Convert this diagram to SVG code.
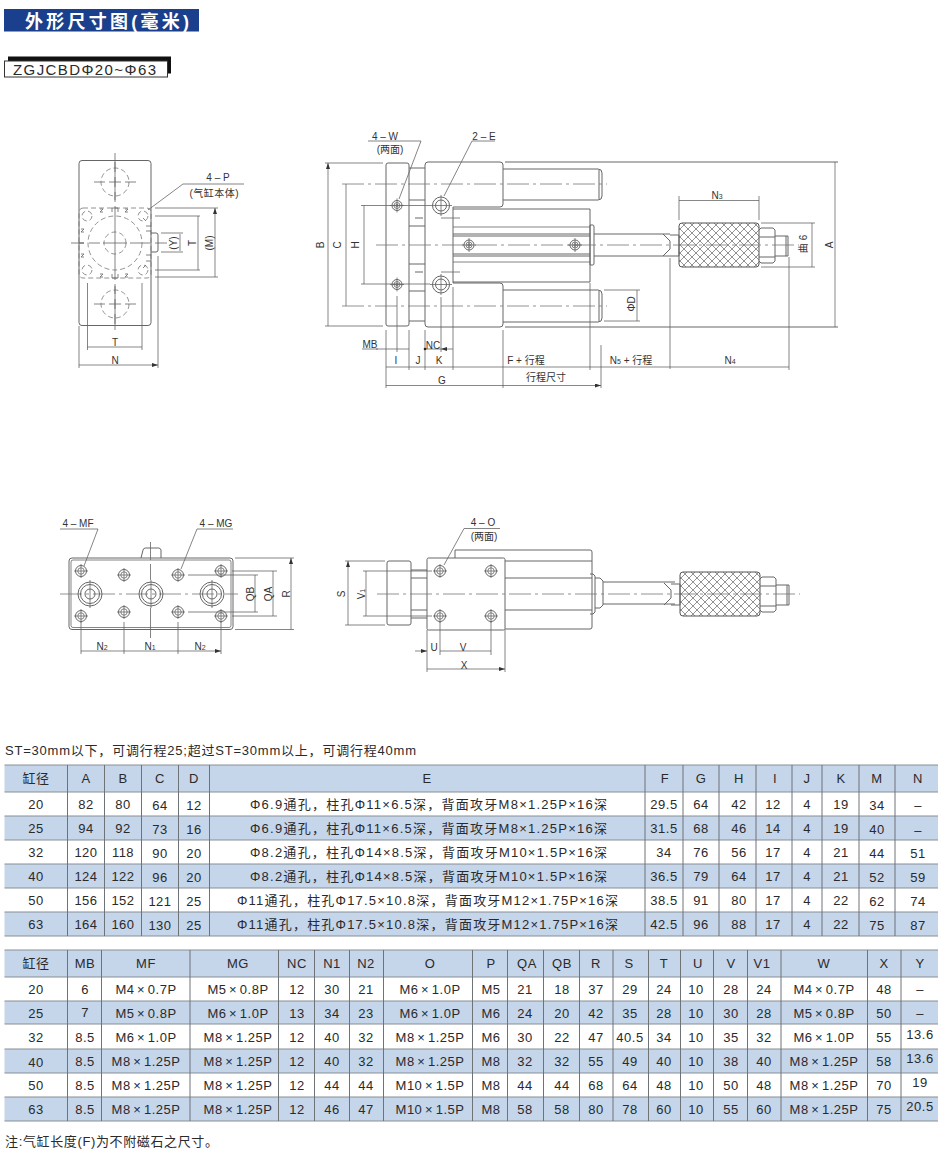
<svg xmlns="http://www.w3.org/2000/svg" width="950" height="1150" viewBox="0 0 950 1150">
<defs>
<style>
text{font-family:"Liberation Sans","Noto Sans CJK SC",sans-serif;fill:#2a2a2a}
.c{text-anchor:middle;font-size:13px;letter-spacing:.5px}
.m{text-anchor:middle;font-size:13px;letter-spacing:.5px;word-spacing:-1.5px}
.l{font-size:10px;text-anchor:middle;fill:#333}
.s{fill:none;stroke:#666;stroke-width:1}
.d{fill:none;stroke:#666;stroke-width:.8}
.a{fill:none;stroke:#555;stroke-width:.7;marker-start:url(#ah);marker-end:url(#ah)}
.e{fill:none;stroke:#555;stroke-width:.7;marker-end:url(#ah)}
.dash{fill:none;stroke:#777;stroke-width:.8;stroke-dasharray:5 3}
.cl{fill:none;stroke:#777;stroke-width:.8;stroke-dasharray:22 4 3 4}
.hb{fill:#c5d5ea}
.hl{fill:none;stroke:#8a8f96;stroke-width:1.2}
.vl{fill:none;stroke:#6e7378;stroke-width:1}
</style>
<marker id="ah" viewBox="0 0 6 4" refX="6" refY="2" markerWidth="6" markerHeight="4" markerUnits="userSpaceOnUse" orient="auto-start-reverse"><path d="M0 0L6 2L0 4Z" fill="#333"/></marker>
<pattern id="kn" width="8" height="8" patternUnits="userSpaceOnUse"><rect width="8" height="8" fill="#fff"/><path d="M0 0L8 8M8 0L0 8" stroke="#777" stroke-width=".8"/></pattern>
<g id="hs"><circle r="5.5" class="s"/><circle r="3.2" class="d"/><path class="d" d="M-7 0H7M0-7V7"/></g>
<g id="hb"><circle r="5" class="s"/><circle r="3" class="d"/><circle r="1.3" class="d"/><path class="d" d="M-7 0H7M0-7V7"/></g>
<g id="port"><circle r="12" class="s"/><circle r="9.5" class="s"/><circle r="5" class="s"/><path class="d" d="M0-14V14"/></g>
<g id="cr"><circle r="14" class="dash"/><path class="d" d="M-21 0H-10M-6 0H6M10 0H21M0-20V-10M0-5V5M0 10V20"/></g>
<g id="knob"><rect x="679" y="-22" width="80" height="44" rx="3" fill="url(#kn)" stroke="#555"/><path class="s" d="M663-11L670-4V4L663 11M670-10H679V11H670M759-15L761-17H773L775-15V16L773 18H761L759 16M759-8H775M759 12H775M775-9H788V11H775M786-9V11"/></g>
</defs>
<rect width="950" height="1150" fill="#fff"/>

<g id="title"><rect x="4" y="9" width="195" height="22.5" fill="#1a3f8c"/><text x="25" y="27.500" font-size="18" font-weight="bold" textLength="164" style="fill:#fff">外形尺寸图(毫米)</text></g>
<g id="model"><rect x="8" y="56.500" width="163" height="17" fill="#111"/><rect x="4.500" y="61" width="163" height="16" fill="#fff" stroke="#333"/><text x="13" y="74.500" font-size="15" textLength="143">ZGJCBDΦ20~Φ63</text></g>

<g id="view-end">
<rect x="79" y="160.500" width="72" height="165" rx="3" class="s"/>
<rect x="79" y="208" width="72" height="70" rx="4" class="dash" fill="#fff"/>
<path class="s" d="M151 233H156Q158 233 158 235V250Q158 252 156 252H151"/>
<use href="#cr" x="115" y="182"/><use href="#cr" x="115" y="304"/>
<circle cx="115" cy="243" r="27" class="dash" stroke-dasharray="9 4"/><circle cx="115" cy="243" r="11" class="dash"/>
<path class="d" d="M115 153V200M115 206V280M115 286V330M71 243H84M89 243H100M103 243H127M130 243H150M155 243H167"/>
<path class="s" d="M79 243H84" stroke-width="2.500"/>
<g id="ports-end"><circle cx="87" cy="216" r="5" class="dash" stroke-dasharray="3 2"/><circle cx="143" cy="216" r="5" class="dash" stroke-dasharray="3 2"/><circle cx="87" cy="270" r="5" class="dash" stroke-dasharray="3 2"/><circle cx="143" cy="270" r="5" class="dash" stroke-dasharray="3 2"/></g>
<path class="d" d="M100 209h3l-3 3h3M125 209h3l-3 3h3M100 274h3l-3 3h3M125 274h3l-3 3h3M112 212v-4h6v4M112 274v4h6v-4M81 229h3l-3 3h3M81 254h3l-3 3h3M146 226h5M146 231h5M146 255h5M146 261h5M143 218l3 3M143 268l3-3"/>
<path class="d" d="M183 184H244M183 184L148 210M155 208H218M155 216H200M161 233H183M161 252H183M155 270H200M155 277H218M87.500 283V350M142 283V350M79 326V368M158 256V368"/>
<path class="a" d="M215 208V277M198 216V270M180 234V251M87.500 347H142M79 365H158"/>
<text class="l" x="218" y="180.500">4 – P</text><text class="l" x="214" y="196.500" textLength="49">(气缸本体)</text>
<text class="l" transform="translate(176.500,243) rotate(-90)">(Y)</text><text class="l" transform="translate(195.500,243) rotate(-90)">T</text><text class="l" transform="translate(212.500,243) rotate(-90)">(M)</text>
<text class="l" x="115" y="345.500">T</text><text class="l" x="115" y="363.500">N</text>
</g>

<g id="view-side">
<path class="s" d="M505 162H838M505 327H838"/>
<rect x="386" y="163" width="23" height="163" rx="2" class="s"/>
<path class="s" d="M409 168H425M409 200H425M409 291H425M409 321H425M409 226H425M409 264H425"/>
<path class="s" d="M415 218H423M415 272H423" stroke-width="1.300"/>
<path class="s" d="M428 162H500Q503 162 503 165V204Q503 207 500 207H453V283H500Q503 283 503 286V324Q503 327 500 327H428Q425 327 425 324V165Q425 162 428 162Z"/>
<path class="s" d="M503 169H598Q602 169 602 173V196Q602 200 598 200H503M599 170V199"/>
<path class="s" d="M503 322H598Q602 322 602 318V294Q602 290 598 290H503M599 291V321"/>
<path class="s" d="M453 209H590V282H453M590 225H593Q594 225 594 227V263Q594 265 593 265H590V225"/>
<path class="d" d="M453 227H590M453 262H590"/><path class="s" d="M453 234H590M453 236H590M453 254H590M453 256H590"/>
<path class="s" d="M594 234H670M594 256H670"/>
<use href="#knob" y="245"/>
<path class="cl" d="M376 245H799"/>
<path class="cl" d="M342 184H607M342 306H607"/>
<path class="d" d="M361 205.500H430M361 284H430"/>
<path class="d" d="M441 218H460M441 272H460"/>
<use href="#hb" x="397" y="205.500"/><use href="#hb" x="397" y="284.500"/>
<g><circle cx="441" cy="205.500" r="8.500" class="s"/><circle cx="441" cy="205.500" r="5.500" class="s"/><path class="d" d="M441 195V216M430 205.500H452"/><circle cx="441" cy="284.500" r="8.500" class="s"/><circle cx="441" cy="284.500" r="5.500" class="s"/><path class="d" d="M441 274V295M430 284.500H452"/></g>
<use href="#hb" x="469" y="245"/><use href="#hb" x="575" y="245"/>
<path class="d" d="M325 163H383M325 326H383M397 296V352M441 297V352M386 330V388M409 330V370M425 330V370M453 287V370M503 330V388M590 283V370M601 345V388M670 258V369M789 257V370M679 196V220M759 196V220M761 223H815M761 267H815M604 290H640M604 321H640M368 141H421M421 141L399 199M472 141H495M472 141L444 196M362 349H378M386 349H397M425 349H441"/>
<path class="a" d="M328 163V326M346 184V306M364 205.500V284M835 162V327M812 223V267M637 290V321M679 200.500H759M386 367H409M409 367H425M425 367H453M453 367H590M590 367H670M670 367H789M386 385.500H503M503 385.500H601"/>
<path class="e" d="M376 349H386M409 349H397M453 349H441"/>
<circle cx="425" cy="349" r="1.300" fill="#222"/>
<text class="l" x="385" y="139.500">4 – W</text><text class="l" x="390" y="153">(两面)</text><text class="l" x="484" y="139.500">2 – E</text>
<text class="l" transform="translate(323.500,245) rotate(-90)">B</text><text class="l" transform="translate(340.500,245) rotate(-90)">C</text><text class="l" transform="translate(358.500,245) rotate(-90)">H</text>
<text class="l" transform="translate(832.500,245) rotate(-90)">A</text><text class="l" transform="translate(635,304) rotate(-90)">ΦD</text><text class="l" transform="translate(807,244) rotate(-90)">曲<tspan dx="3">6</tspan></text>
<text class="l" x="717" y="198.500">N<tspan font-size="7">3</tspan></text>
<text class="l" x="370" y="347.500">MB</text><text class="l" x="433" y="348.500">NC</text><text class="l" x="396" y="363.500">I</text><text class="l" x="418" y="363.500">J</text><text class="l" x="439" y="363.500">K</text>
<text class="l" x="526" y="363.500">F + 行程</text><text class="l" x="631" y="363.500">N<tspan font-size="7">5</tspan> + 行程</text><text class="l" x="730" y="363.500">N<tspan font-size="7">4</tspan></text>
<text class="l" x="442" y="383.500">G</text><text class="l" x="546" y="381">行程尺寸</text>
</g>

<g id="view-bottom">
<path class="s" d="M141 558L143 550Q143.500 548 145.500 548H158.500Q160.500 548 161 550L161 558"/>
<rect x="69" y="558" width="164" height="71.500" rx="3" class="s" fill="#fff"/><rect x="71" y="560" width="160" height="67.500" rx="2" class="d"/>
<path class="cl" d="M60 594H238"/><path class="d" d="M150.500 542V560M150.500 564V580M150.500 608V638"/>
<use href="#port" x="90" y="594"/><use href="#port" x="151" y="594"/><use href="#port" x="212" y="594"/>
<use href="#hs" x="81" y="571"/><use href="#hs" x="81" y="616"/><use href="#hs" x="221" y="571"/><use href="#hs" x="221" y="616"/>
<use href="#hs" x="124" y="575"/><use href="#hs" x="124" y="612"/><use href="#hs" x="178" y="575"/><use href="#hs" x="178" y="612"/>
<path class="d" d="M235 558H294M235 629.500H294M232 571H277M232 616H277M188 575H258M188 612H258M60 529H98M98 529L84 566M197 529H233M197 529L181 569M81 622V654M124 622V654M178 622V654M221 622V654"/>
<path class="a" d="M291 558V629.500M273 571V616M255 575V612M81 651H124M124 651H178M178 651H221"/>
<text class="l" x="78" y="526.500">4 – MF</text><text class="l" x="216" y="526.500">4 – MG</text>
<text class="l" transform="translate(253.500,594) rotate(-90)">QB</text><text class="l" transform="translate(271.500,594) rotate(-90)">QA</text><text class="l" transform="translate(289.500,594) rotate(-90)">R</text>
<text class="l" x="102" y="650">N<tspan font-size="7">2</tspan></text><text class="l" x="150" y="650">N<tspan font-size="7">1</tspan></text><text class="l" x="200" y="650">N<tspan font-size="7">2</tspan></text>
</g>

<g id="view-front">
<rect x="387" y="561" width="24" height="64" rx="2" class="s"/>
<path class="s" d="M411 570H427M411 578H427M411 610H427M411 618H427"/>
<path class="s" d="M455 558V550H590Q592 550 592 552V627Q592 629 590 629H505M505 561H592M505 578H592M505 610H592"/>
<rect x="427" y="558" width="78" height="72" rx="1.500" class="s" fill="#fff"/>
<path class="s" d="M590 574H593L595 576V612L593 614H590M595 578H600L603 581V605L600 608H595"/>
<path class="s" d="M603 582H675M603 604H675"/>
<use href="#knob" y="594" transform="translate(1 0)"/>
<path class="cl" d="M377 594H800"/>
<use href="#hs" x="440" y="571"/><use href="#hs" x="491" y="571"/><use href="#hs" x="440" y="616"/><use href="#hs" x="491" y="616"/>
<path class="d" d="M345 561H385M345 625H385M363 571H432M363 616H432M427 630V672M505 630V672M440 622V655M491 622V655M464 528.500H500M464 528.500L444 565"/>
<path class="a" d="M348 561V625M366 571V616M440 651H491M427 669H505"/><path class="e" d="M415 651H427"/>
<text class="l" x="483" y="525.500">4 – O</text><text class="l" x="484" y="540">(两面)</text>
<text class="l" transform="translate(344.500,594) rotate(-90)">S</text><text class="l" transform="translate(364.500,594) rotate(-90)">V<tspan font-size="7">1</tspan></text>
<text class="l" x="434" y="650.500">U</text><text class="l" x="463" y="650.500">V</text><text class="l" x="464" y="668.500">X</text>
</g>

<g id="table-1">
<text x="5" y="755" font-size="13" textLength="411">ST=30mm以下，可调行程25;超过ST=30mm以上，可调行程40mm</text>
<rect class="hb" x="4.500" y="765" width="933.500" height="27"/><rect class="hb" x="4.500" y="816" width="933.500" height="24"/><rect class="hb" x="4.500" y="864" width="933.500" height="24"/><rect class="hb" x="4.500" y="912" width="933.500" height="24"/>
<path class="hl" d="M4.500 765H938M4.500 792H938M4.500 816H938M4.500 840H938M4.500 864H938M4.500 888H938M4.500 912H938M4.500 936H938"/>
<path class="vl" d="M67.500 765V936M104.500 765V936M141.500 765V936M178.500 765V936M209.500 765V936M645 765V936M683 765V936M719 765V936M756 765V936M792 765V936M822 765V936M859 765V936M895 765V936"/>
<g><text class="c" x="36" y="783">缸径</text><text class="c" x="86" y="783">A</text><text class="c" x="123" y="783">B</text><text class="c" x="160" y="783">C</text><text class="c" x="194" y="783">D</text><text class="c" x="427" y="783">E</text><text class="c" x="665" y="783">F</text><text class="c" x="701" y="783">G</text><text class="c" x="739" y="783">H</text><text class="c" x="775" y="783">I</text><text class="c" x="807" y="783">J</text><text class="c" x="841" y="783">K</text><text class="c" x="877" y="783">M</text><text class="c" x="918" y="783">N</text></g>
<g transform="translate(0 809)"><text class="c" x="36">20</text><text class="c" x="86">82</text><text class="c" x="123">80</text><text class="c" x="160" y="1">64</text><text class="c" x="194" y="1">12</text><text x="250" font-size="13" textLength="357">Φ6.9通孔，柱孔Φ11×6.5深，背面攻牙M8×1.25P×16深</text><text class="c" x="664">29.5</text><text class="c" x="701">64</text><text class="c" x="739">42</text><text class="c" x="773">12</text><text class="c" x="807">4</text><text class="c" x="841">19</text><text class="c" x="877" y="1">34</text><text class="c" x="918" y="1">–</text></g>
<g transform="translate(0 833)"><text class="c" x="36">25</text><text class="c" x="86">94</text><text class="c" x="123">92</text><text class="c" x="160" y="1">73</text><text class="c" x="194" y="1">16</text><text x="250" font-size="13" textLength="357">Φ6.9通孔，柱孔Φ11×6.5深，背面攻牙M8×1.25P×16深</text><text class="c" x="664">31.5</text><text class="c" x="701">68</text><text class="c" x="739">46</text><text class="c" x="773">14</text><text class="c" x="807">4</text><text class="c" x="841">19</text><text class="c" x="877" y="1">40</text><text class="c" x="918" y="2">–</text></g>
<g transform="translate(0 857)"><text class="c" x="36">32</text><text class="c" x="86">120</text><text class="c" x="123">118</text><text class="c" x="160" y="1">90</text><text class="c" x="194" y="1">20</text><text x="250" font-size="13" textLength="357">Φ8.2通孔，柱孔Φ14×8.5深，背面攻牙M10×1.5P×16深</text><text class="c" x="664">34</text><text class="c" x="701">76</text><text class="c" x="739">56</text><text class="c" x="773">17</text><text class="c" x="807">4</text><text class="c" x="841">21</text><text class="c" x="877" y="1">44</text><text class="c" x="918" y="1">51</text></g>
<g transform="translate(0 881)"><text class="c" x="36">40</text><text class="c" x="86">124</text><text class="c" x="123">122</text><text class="c" x="160" y="1">96</text><text class="c" x="194" y="1">20</text><text x="250" font-size="13" textLength="357">Φ8.2通孔，柱孔Φ14×8.5深，背面攻牙M10×1.5P×16深</text><text class="c" x="664">36.5</text><text class="c" x="701">79</text><text class="c" x="739">64</text><text class="c" x="773">17</text><text class="c" x="807">4</text><text class="c" x="841">21</text><text class="c" x="877" y="1">52</text><text class="c" x="918" y="1">59</text></g>
<g transform="translate(0 905)"><text class="c" x="36">50</text><text class="c" x="86">156</text><text class="c" x="123">152</text><text class="c" x="160" y="1">121</text><text class="c" x="194" y="1">25</text><text x="237" font-size="13" textLength="381">Φ11通孔，柱孔Φ17.5×10.8深，背面攻牙M12×1.75P×16深</text><text class="c" x="664">38.5</text><text class="c" x="701">91</text><text class="c" x="739">80</text><text class="c" x="773">17</text><text class="c" x="807">4</text><text class="c" x="841">22</text><text class="c" x="877" y="1">62</text><text class="c" x="918" y="1">74</text></g>
<g transform="translate(0 929)"><text class="c" x="36">63</text><text class="c" x="86">164</text><text class="c" x="123">160</text><text class="c" x="160" y="1">130</text><text class="c" x="194" y="1">25</text><text x="237" font-size="13" textLength="381">Φ11通孔，柱孔Φ17.5×10.8深，背面攻牙M12×1.75P×16深</text><text class="c" x="664">42.5</text><text class="c" x="701">96</text><text class="c" x="739">88</text><text class="c" x="773">17</text><text class="c" x="807">4</text><text class="c" x="841">22</text><text class="c" x="877" y="1">75</text><text class="c" x="918" y="1">87</text></g>
</g>

<g id="table-2">
<rect class="hb" x="4.500" y="950" width="933.500" height="27"/><rect class="hb" x="4.500" y="1001" width="933.500" height="23"/><rect class="hb" x="4.500" y="1049" width="933.500" height="24"/><rect class="hb" x="4.500" y="1097" width="933.500" height="24"/>
<path class="hl" d="M4.500 950H938M4.500 977H938M4.500 1001H938M4.500 1024H938M4.500 1049H938M4.500 1073H938M4.500 1097H938M4.500 1121H938"/>
<path class="vl" d="M67.500 950V1121M101.500 950V1121M190 950V1121M278.500 950V1121M314.500 950V1121M349.500 950V1121M383.500 950V1121M472.500 950V1121M507.500 950V1121M543.500 950V1121M579.500 950V1121M613 950V1121M648.500 950V1121M680.500 950V1121M713.500 950V1121M747.500 950V1121M781 950V1121M867.500 950V1121M901 950V1121"/>
<g><text class="c" x="36" y="968">缸径</text><text class="c" x="85" y="968">MB</text><text class="c" x="146" y="968">MF</text><text class="c" x="238" y="968">MG</text><text class="c" x="297" y="968">NC</text><text class="c" x="332" y="968">N1</text><text class="c" x="366" y="968">N2</text><text class="c" x="430" y="968">O</text><text class="c" x="491" y="968">P</text><text class="c" x="527" y="968">QA</text><text class="c" x="562" y="968">QB</text><text class="c" x="596" y="968">R</text><text class="c" x="629" y="968">S</text><text class="c" x="664" y="968">T</text><text class="c" x="698" y="968">U</text><text class="c" x="731" y="968">V</text><text class="c" x="762" y="968">V1</text><text class="c" x="824" y="968">W</text><text class="c" x="884" y="968">X</text><text class="c" x="920" y="968">Y</text></g>
<g transform="translate(0 993.500)"><text class="c" x="36">20</text><text class="c" x="85">6</text><text class="m" x="146">M4 × 0.7P</text><text class="m" x="238">M5 × 0.8P</text><text class="c" x="297">12</text><text class="c" x="332">30</text><text class="c" x="366">21</text><text class="m" x="430">M6 × 1.0P</text><text class="c" x="491">M5</text><text class="c" x="525">21</text><text class="c" x="562">18</text><text class="c" x="596">37</text><text class="c" x="630">29</text><text class="c" x="664">24</text><text class="c" x="696">10</text><text class="c" x="731">28</text><text class="c" x="764">24</text><text class="m" x="824">M4 × 0.7P</text><text class="c" x="884">48</text><text class="c" x="920">–</text></g>
<g transform="translate(0 1017.500)"><text class="c" x="36">25</text><text class="c" x="85" y="-1">7</text><text class="m" x="146">M5 × 0.8P</text><text class="m" x="238">M6 × 1.0P</text><text class="c" x="297">13</text><text class="c" x="332">34</text><text class="c" x="366">23</text><text class="m" x="430">M6 × 1.0P</text><text class="c" x="491">M6</text><text class="c" x="525">24</text><text class="c" x="562">20</text><text class="c" x="596">42</text><text class="c" x="630">35</text><text class="c" x="664">28</text><text class="c" x="696">10</text><text class="c" x="731">30</text><text class="c" x="764">28</text><text class="m" x="824">M5 × 0.8P</text><text class="c" x="884">50</text><text class="c" x="920">–</text></g>
<g transform="translate(0 1041.500)"><text class="c" x="36">32</text><text class="c" x="85">8.5</text><text class="m" x="146">M6 × 1.0P</text><text class="m" x="238">M8 × 1.25P</text><text class="c" x="297">12</text><text class="c" x="332">40</text><text class="c" x="366">32</text><text class="m" x="430">M8 × 1.25P</text><text class="c" x="491">M6</text><text class="c" x="525">30</text><text class="c" x="562">22</text><text class="c" x="596">47</text><text class="c" x="630">40.5</text><text class="c" x="664">34</text><text class="c" x="696">10</text><text class="c" x="731">35</text><text class="c" x="764">32</text><text class="m" x="824">M6 × 1.0P</text><text class="c" x="884">55</text><text class="c" x="920" y="-2.500">13.6</text></g>
<g transform="translate(0 1065.500)"><text class="c" x="36" y="1">40</text><text class="c" x="85">8.5</text><text class="m" x="146">M8 × 1.25P</text><text class="m" x="238">M8 × 1.25P</text><text class="c" x="297">12</text><text class="c" x="332">40</text><text class="c" x="366">32</text><text class="m" x="430">M8 × 1.25P</text><text class="c" x="491">M8</text><text class="c" x="525">32</text><text class="c" x="562">32</text><text class="c" x="596">55</text><text class="c" x="630">49</text><text class="c" x="664">40</text><text class="c" x="696">10</text><text class="c" x="731">38</text><text class="c" x="764">40</text><text class="m" x="824">M8 × 1.25P</text><text class="c" x="884">58</text><text class="c" x="920" y="-2.500">13.6</text></g>
<g transform="translate(0 1089.500)"><text class="c" x="36">50</text><text class="c" x="85">8.5</text><text class="m" x="146">M8 × 1.25P</text><text class="m" x="238">M8 × 1.25P</text><text class="c" x="297">12</text><text class="c" x="332">44</text><text class="c" x="366">44</text><text class="m" x="430">M10 × 1.5P</text><text class="c" x="491">M8</text><text class="c" x="525">44</text><text class="c" x="562">44</text><text class="c" x="596">68</text><text class="c" x="630">64</text><text class="c" x="664">48</text><text class="c" x="696">10</text><text class="c" x="731">50</text><text class="c" x="764">48</text><text class="m" x="824">M8 × 1.25P</text><text class="c" x="884">70</text><text class="c" x="920" y="-2.500">19</text></g>
<g transform="translate(0 1113.500)"><text class="c" x="36">63</text><text class="c" x="85">8.5</text><text class="m" x="146">M8 × 1.25P</text><text class="m" x="238">M8 × 1.25P</text><text class="c" x="297">12</text><text class="c" x="332">46</text><text class="c" x="366">47</text><text class="m" x="430">M10 × 1.5P</text><text class="c" x="491">M8</text><text class="c" x="525">58</text><text class="c" x="562">58</text><text class="c" x="596">80</text><text class="c" x="630">78</text><text class="c" x="664">60</text><text class="c" x="696">10</text><text class="c" x="731">55</text><text class="c" x="764">60</text><text class="m" x="824">M8 × 1.25P</text><text class="c" x="884">75</text><text class="c" x="920" y="-2.500">20.5</text></g>
<text x="5" y="1146" font-size="13" textLength="213">注:气缸长度(F)为不附磁石之尺寸。</text>
</g>
</svg>
